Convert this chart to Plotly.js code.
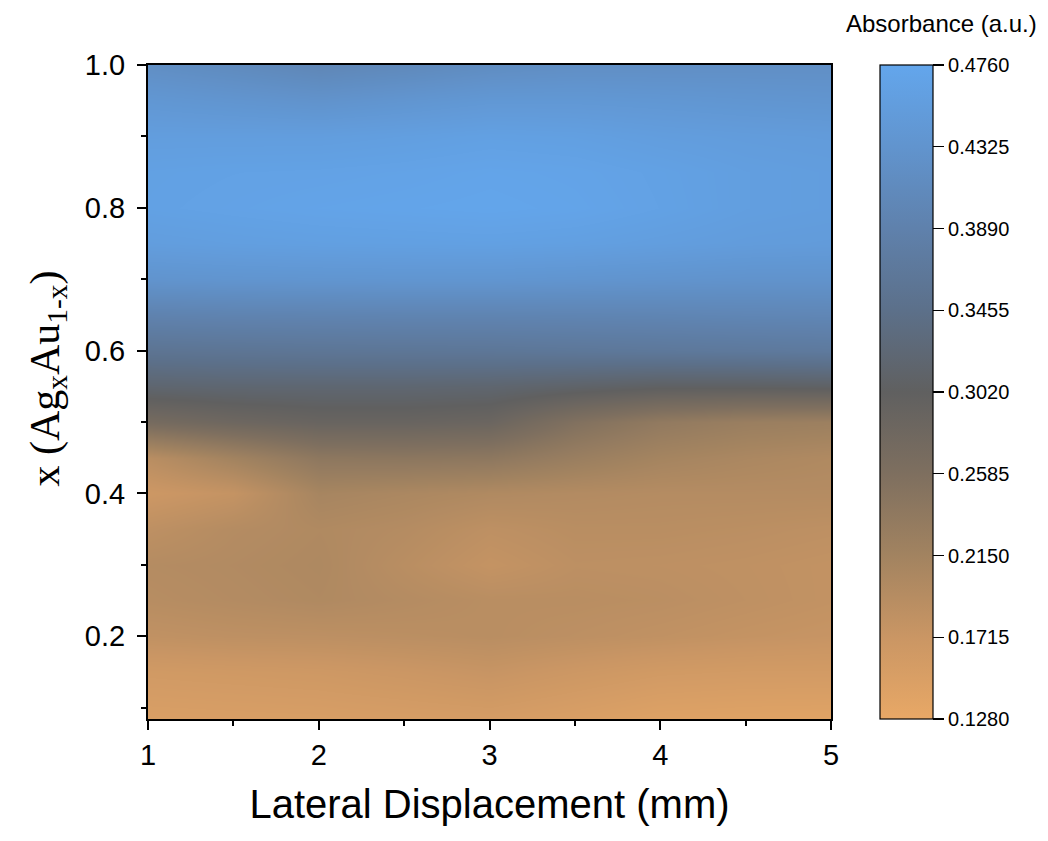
<!DOCTYPE html>
<html>
<head>
<meta charset="utf-8">
<script src="https://cdn.plot.ly/plotly-3.0.1.min.js"></script>
<style>
  html, body { margin: 0; padding: 0; background: #fff; }
  #chart { width: 1048px; height: 841px; }
</style>
</head>
<body>
<div id="chart"></div>
<script>
// Lateral displacement positions (mm)
const displacement = [1, 1.5, 2, 2.5, 3, 3.5, 4, 4.5, 5];

// Ag fraction x in AgxAu1-x
const agFraction = [0.084, 0.15, 0.2, 0.25, 0.3, 0.35, 0.4, 0.45, 0.5, 0.55,
                    0.6, 0.65, 0.7, 0.75, 0.8, 0.85, 0.9, 0.95, 1.0];

// Absorbance (a.u.), one row per Ag fraction, one column per displacement
const absorbance = [
  [0.150, 0.151, 0.152, 0.154, 0.156, 0.150, 0.143, 0.141, 0.140],
  [0.162, 0.164, 0.166, 0.170, 0.175, 0.168, 0.162, 0.160, 0.160],
  [0.182, 0.185, 0.186, 0.188, 0.190, 0.186, 0.182, 0.178, 0.175],
  [0.192, 0.196, 0.200, 0.195, 0.190, 0.190, 0.188, 0.184, 0.180],
  [0.195, 0.198, 0.202, 0.190, 0.178, 0.186, 0.185, 0.183, 0.180],
  [0.185, 0.195, 0.200, 0.195, 0.185, 0.190, 0.190, 0.188, 0.185],
  [0.168, 0.178, 0.210, 0.205, 0.200, 0.197, 0.195, 0.195, 0.195],
  [0.190, 0.215, 0.240, 0.242, 0.240, 0.225, 0.212, 0.205, 0.200],
  [0.270, 0.282, 0.290, 0.290, 0.286, 0.255, 0.235, 0.225, 0.222],
  [0.318, 0.320, 0.320, 0.320, 0.318, 0.312, 0.306, 0.306, 0.308],
  [0.356, 0.358, 0.360, 0.361, 0.362, 0.364, 0.366, 0.368, 0.370],
  [0.392, 0.394, 0.395, 0.396, 0.396, 0.397, 0.398, 0.400, 0.401],
  [0.432, 0.434, 0.435, 0.436, 0.436, 0.434, 0.432, 0.430, 0.430],
  [0.455, 0.458, 0.460, 0.461, 0.462, 0.460, 0.456, 0.452, 0.450],
  [0.464, 0.467, 0.470, 0.472, 0.474, 0.471, 0.465, 0.458, 0.455],
  [0.463, 0.465, 0.466, 0.468, 0.471, 0.469, 0.464, 0.458, 0.455],
  [0.455, 0.455, 0.455, 0.458, 0.462, 0.460, 0.455, 0.452, 0.450],
  [0.440, 0.435, 0.430, 0.436, 0.442, 0.442, 0.440, 0.437, 0.435],
  [0.420, 0.412, 0.402, 0.408, 0.416, 0.420, 0.420, 0.421, 0.421]
];

// Colour bar ticks
const barTicks = [0.1280, 0.1715, 0.2150, 0.2585, 0.3020, 0.3455, 0.3890, 0.4325, 0.4760];
const barTickText = barTicks.map(v => v.toFixed(4));

const zMin = 0.128, zMax = 0.476;

const sans = 'Liberation Sans, Arial, sans-serif';

const trace = {
  type: 'heatmap',
  x: displacement,
  y: agFraction,
  z: absorbance,
  zmin: zMin,
  zmax: zMax,
  zsmooth: 'best',
  colorscale: [
    [0.000, 'rgb(232,168,102)'],
    [0.125, 'rgb(202,150,100)'],
    [0.250, 'rgb(162,131,96)'],
    [0.375, 'rgb(126,111,95)'],
    [0.500, 'rgb(96,96,96)'],
    [0.625, 'rgb(92,112,138)'],
    [0.750, 'rgb(95,129,172)'],
    [0.875, 'rgb(97,148,206)'],
    [1.000, 'rgb(99,166,236)']
  ],
  colorbar: {
    x: 1.0717, xanchor: 'left', xpad: 0,
    y: 0, yanchor: 'bottom', len: 1, lenmode: 'fraction', ypad: 0,
    thickness: 53,
    outlinewidth: 1.2, outlinecolor: '#000',
    tickmode: 'array', tickvals: barTicks, ticktext: barTickText,
    ticks: 'outside', ticklen: 11, tickwidth: 1.2, tickcolor: '#000',
    tickfont: { family: sans, size: 20, color: '#000' }
  },
  hoverinfo: 'x+y+z'
};

const axisCommon = {
  showline: true, linecolor: '#000', linewidth: 2, mirror: true,
  ticks: 'outside', ticklen: 9, tickwidth: 2, tickcolor: '#000',
  showgrid: false, zeroline: false,
  tickfont: { family: sans, size: 29, color: '#000' }
};

const layout = {
  width: 1048, height: 841,
  margin: { l: 148, r: 217, t: 65, b: 122 },
  paper_bgcolor: '#fff', plot_bgcolor: '#fff',
  xaxis: Object.assign({}, axisCommon, {
    range: [1, 5], tickvals: [1, 2, 3, 4, 5],
    minor: { tickvals: [1.5, 2.5, 3.5, 4.5], ticks: 'outside', ticklen: 5, tickwidth: 2, tickcolor: '#000' },
    title: { text: 'Lateral Displacement (mm)', standoff: 20,
             font: { family: sans, size: 40, color: '#000' } }
  }),
  yaxis: Object.assign({}, axisCommon, {
    range: [0.084, 1.0], tickvals: [0.2, 0.4, 0.6, 0.8, 1.0], ticktext: ['0.2', '0.4', '0.6', '0.8', '1.0'],
    ticklabelstandoff: 6,
    minor: { tickvals: [0.1, 0.3, 0.5, 0.7, 0.9], ticks: 'outside', ticklen: 5, tickwidth: 2, tickcolor: '#000' }
  }),
  annotations: [
    {
      text: 'Absorbance (a.u.)', xref: 'paper', yref: 'paper',
      x: 1.305, y: 1.0, xanchor: 'right', yanchor: 'bottom', yshift: 26,
      showarrow: false,
      font: { family: sans, size: 24, color: '#000' }
    },
    {
      // vertical axis title
      text: 'x (Ag<sub>x</sub>Au<sub>1-x</sub>)', xref: 'paper', yref: 'paper',
      x: -0.147, y: 0.52, xanchor: 'center', yanchor: 'middle', textangle: -90,
      showarrow: false,
      font: { family: 'Liberation Serif, Times New Roman, serif', size: 42, color: '#000' }
    }
  ]
};

Plotly.newPlot('chart', [trace], layout, { displayModeBar: false, staticPlot: true });
</script>
</body>
</html>
